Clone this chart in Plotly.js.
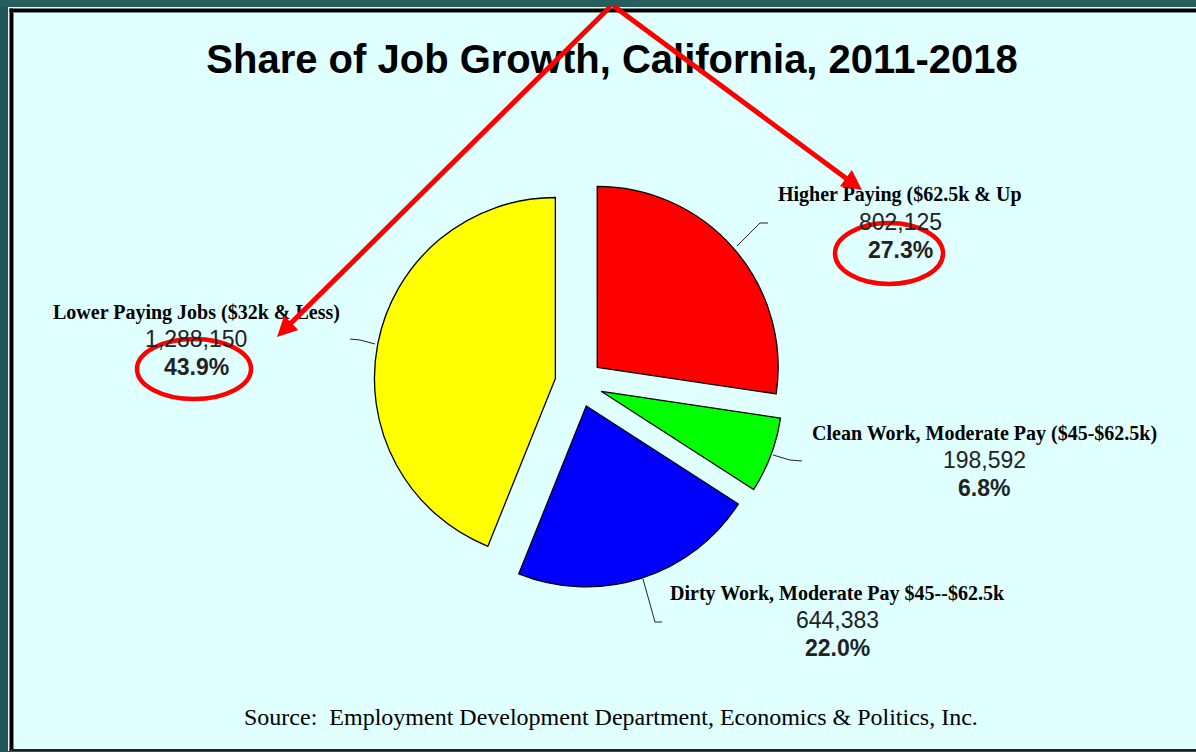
<!DOCTYPE html>
<html>
<head>
<meta charset="utf-8">
<script src="https://cdn.plot.ly/plotly-3.0.1.min.js"></script>
<style>
  html, body { margin: 0; padding: 0; background: #e0ffff; }
  body { width: 1196px; height: 752px; overflow: hidden; }
  #chart { width: 1196px; height: 752px; }
</style>
</head>
<body>
<div id="chart"></div>
<script>
// ---- data ----
const categories = [
  'Higher Paying ($62.5k & Up',
  'Clean Work, Moderate Pay ($45-$62.5k)',
  'Dirty Work, Moderate Pay $45--$62.5k',
  'Lower Paying Jobs ($32k & Less)'
];
const jobs = [802125, 198592, 644383, 1288150];
const shares = [27.3, 6.8, 22.0, 43.9];
const sliceColors = ['#ff0000', '#00ff00', '#0000ff', '#ffff00'];
const titleText = 'Share of Job Growth, California, 2011-2018';
const sourceText = 'Source:  Employment Development Department, Economics & Politics, Inc.';

// ---- layout helpers (pixel -> paper) ----
const W = 1196, H = 752;
const px = x => x / W;
const py = y => 1 - y / H;

// label block placement (centre x, y of first line)
const labelPos = [[900, 195], [984, 433], [837, 593], [196, 312]];
const leaders = [
  [[737, 246], [760, 223], [768, 223]],
  [[773, 455], [790, 460], [802, 461]],
  [[643, 579], [655, 622], [662, 622]],
  [[375, 344], [360, 340], [350, 339]]
];

const annotations = [];
categories.forEach((c, i) => {
  const [cx, cy] = labelPos[i];
  annotations.push({xref: 'paper', yref: 'paper', x: px(cx), y: py(cy), xanchor: 'center', yanchor: 'middle',
    showarrow: false, text: c, font: {family: 'Liberation Serif', size: 20, weight: 700, color: '#000'}});
  annotations.push({xref: 'paper', yref: 'paper', x: px(cx), y: py(cy + 27), xanchor: 'center', yanchor: 'middle',
    showarrow: false, text: jobs[i].toLocaleString('en-US'), font: {family: 'Liberation Sans', size: 23, color: '#222'}});
  annotations.push({xref: 'paper', yref: 'paper', x: px(cx), y: py(cy + 55), xanchor: 'center', yanchor: 'middle',
    showarrow: false, text: shares[i].toFixed(1) + '%', font: {family: 'Liberation Sans', size: 23, weight: 700, color: '#222'}});
});
// source
annotations.push({xref: 'paper', yref: 'paper', x: px(611), y: py(717), xanchor: 'center', yanchor: 'middle',
  showarrow: false, text: sourceText, font: {family: 'Liberation Serif', size: 24, color: '#000'}});
// red arrows
const apex = [612, 5];
[[277, 337], [862, 190]].forEach(t => {
  annotations.push({xref: 'paper', yref: 'paper', x: px(t[0]), y: py(t[1]), text: '', showarrow: true,
    axref: 'pixel', ayref: 'pixel', ax: apex[0] - t[0], ay: apex[1] - t[1],
    arrowcolor: '#ff0000', arrowwidth: 5, arrowhead: 2, arrowsize: 0.8, standoff: 0});
});

// frame strips: [x0, y0, x1, y1, colour]
const frame = [
  [0, 0, 8, 752, '#1f5757'], [0, 0, 1196, 7, '#245f5e'], [0, 751, 1196, 752, '#1f5757'],
  [8, 7, 9.5, 751, '#f0f0f0'], [8, 7, 1196, 8.5, '#f0f0f0'],
  [9.5, 8.5, 13, 751, '#000000'], [9.5, 8.5, 1196, 12, '#000000'], [9.5, 749, 1196, 751, '#202020'],
  [13, 12, 14, 749, '#7a8a8a'], [13, 12, 1196, 13, '#7a8a8a']
];
const shapes = frame.map(f => ({type: 'rect', xref: 'paper', yref: 'paper',
  x0: px(f[0]), x1: px(f[2]), y0: py(f[3]), y1: py(f[1]), fillcolor: f[4], line: {width: 0}, layer: 'below'}));
leaders.forEach(pts => {
  const path = pts.map((p, k) => (k ? 'L' : 'M') + px(p[0]) + ',' + py(p[1])).join(' ');
  shapes.push({type: 'path', xref: 'paper', yref: 'paper', path: path, line: {color: '#222', width: 1}});
});
// red ellipses
[[835, 223, 943, 284], [137, 339, 251, 399]].forEach(e => {
  shapes.push({type: 'circle', xref: 'paper', yref: 'paper', x0: px(e[0]), x1: px(e[2]), y0: py(e[3]), y1: py(e[1]),
    line: {color: '#ff0000', width: 4.5}, fillcolor: 'rgba(0,0,0,0)'});
});

const trace = {
  type: 'pie',
  labels: categories,
  values: jobs,
  sort: false,
  direction: 'clockwise',
  rotation: 0,
  pull: [0.133, 0.133, 0.133, 0.133],
  marker: {colors: sliceColors, line: {color: '#000000', width: 1.3}},
  textinfo: 'none',
  hoverinfo: 'label+value+percent',
  showlegend: false,
  domain: {x: [px(374), px(784)], y: [py(588), py(178)]}
};

const layout = {
  width: W, height: H,
  margin: {l: 0, r: 0, t: 0, b: 0},
  paper_bgcolor: '#e0ffff',
  plot_bgcolor: 'rgba(0,0,0,0)',
  showlegend: false,
  title: {text: titleText, x: px(612), xanchor: 'center', xref: 'paper', y: py(59), yanchor: 'middle', yref: 'container',
    font: {family: 'Liberation Sans', size: 40, weight: 700, color: '#000'}},
  shapes: shapes,
  annotations: annotations
};

Plotly.newPlot('chart', [trace], layout, {displayModeBar: false, staticPlot: true});
</script>
</body>
</html>
